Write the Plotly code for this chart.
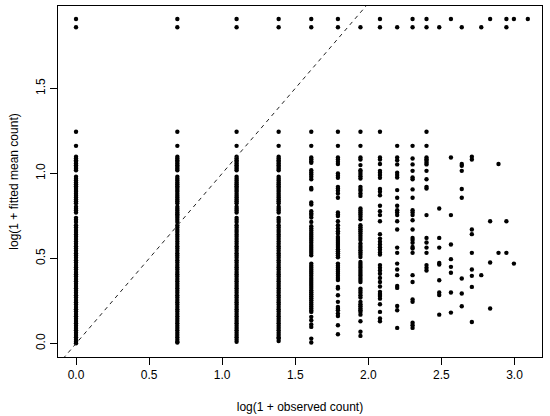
import numpy as np
import plotly.graph_objects as go

# ---------------- data ----------------
# observed counts k; x = log(1 + k)
# y values = log(1 + fitted mean count) for the observations with that count

upper_a = [1.245, 1.162, 1.098, 1.088, 1.078, 1.068, 1.058, 1.048, 1.038, 1.028, 1.019,
           0.980, 0.969, 0.958, 0.947, 0.936, 0.925, 0.914, 0.903, 0.892, 0.880, 0.869,
           0.858, 0.847, 0.836, 0.825, 0.804, 0.793, 0.782, 0.770, 0.739, 0.727, 0.715]
low_a = [0.696, 0.682, 0.668, 0.655, 0.641, 0.628, 0.614, 0.600, 0.586, 0.572, 0.559,
         0.545, 0.531, 0.518, 0.504, 0.490, 0.476, 0.462, 0.449, 0.435, 0.421, 0.408,
         0.394, 0.380, 0.366, 0.352, 0.339, 0.325, 0.311, 0.298, 0.284, 0.270, 0.256,
         0.243, 0.229, 0.215, 0.201, 0.188, 0.174, 0.160, 0.146, 0.133, 0.119, 0.105,
         0.092, 0.078, 0.064, 0.050, 0.037, 0.023, 0.010, 0.002]

y_k0 = upper_a + low_a
y_k1 = upper_a + [0.760, 0.750] + low_a[:-1] + [0.006]
y_k2 = upper_a + low_a[:-2] + [0.010]
y_k3 = upper_a + low_a[:-3] + [0.029, 0.015]
y_k4 = [1.245, 1.162, 1.094, 1.084, 1.072, 1.062, 1.019, 1.006, 0.994, 0.980, 0.966,
        0.915, 0.906, 0.829, 0.817, 0.778, 0.764, 0.755, 0.741, 0.715, 0.690, 0.676,
        0.664, 0.652, 0.640, 0.628, 0.616, 0.604, 0.592, 0.580, 0.568, 0.556, 0.544,
        0.532, 0.519, 0.470, 0.458, 0.446, 0.434, 0.422, 0.410, 0.398, 0.386, 0.374,
        0.362, 0.350, 0.338, 0.326, 0.314, 0.302, 0.290, 0.278, 0.266, 0.254, 0.242,
        0.230, 0.218, 0.206, 0.194, 0.186, 0.157, 0.137, 0.112, 0.098, 0.029, 0.006]
y_k5 = [1.245, 1.162, 1.094, 1.082, 1.068, 1.055, 1.000, 0.986, 0.974, 0.921, 0.911,
        0.898, 0.882, 0.857, 0.770, 0.759, 0.749, 0.719, 0.696, 0.676, 0.660, 0.647,
        0.627, 0.615, 0.603, 0.591, 0.579, 0.567, 0.555, 0.543, 0.531, 0.519, 0.507,
        0.470, 0.458, 0.446, 0.434, 0.422, 0.410, 0.398, 0.386, 0.374, 0.333, 0.323,
        0.284, 0.245, 0.215, 0.205, 0.196, 0.176, 0.162, 0.108, 0.055]
y_k6 = [1.245, 1.162, 1.094, 1.082, 1.049, 1.019, 1.008, 0.996, 0.984, 0.970, 0.921,
        0.909, 0.898, 0.882, 0.868, 0.794, 0.782, 0.770, 0.759, 0.745, 0.731, 0.696,
        0.684, 0.672, 0.660, 0.647, 0.633, 0.621, 0.608, 0.588, 0.574, 0.562, 0.549,
        0.535, 0.523, 0.509, 0.480, 0.468, 0.456, 0.445, 0.433, 0.421, 0.409, 0.398,
        0.386, 0.374, 0.362, 0.323, 0.310, 0.298, 0.284, 0.270, 0.245, 0.231, 0.219,
        0.206, 0.196, 0.186, 0.170, 0.131, 0.069, 0.045]
y_k7 = [1.245, 1.094, 1.082, 1.055, 1.015, 1.004, 0.990, 0.974, 0.908, 0.892, 0.872,
        0.810, 0.778, 0.755, 0.719, 0.643, 0.617, 0.598, 0.582, 0.566, 0.551, 0.535,
        0.523, 0.461, 0.445, 0.429, 0.410, 0.386, 0.362, 0.335, 0.304, 0.292, 0.280,
        0.264, 0.231, 0.186, 0.147, 0.131]
y_k8 = [1.162, 1.094, 1.078, 1.053, 1.004, 0.990, 0.976, 0.902, 0.857, 0.810, 0.784,
        0.770, 0.755, 0.719, 0.670, 0.564, 0.533, 0.470, 0.435, 0.402, 0.339, 0.327,
        0.221, 0.196, 0.092]
y_k9 = [1.162, 1.088, 1.053, 1.015, 0.976, 0.966, 0.906, 0.857, 0.784, 0.770, 0.755,
        0.725, 0.670, 0.621, 0.608, 0.592, 0.568, 0.559, 0.533, 0.402, 0.362, 0.259,
        0.245, 0.123, 0.108, 0.092]
y_k10 = [1.245, 1.162, 1.094, 1.084, 1.074, 1.063, 1.053, 1.015, 0.966, 0.921, 0.911,
         0.755, 0.621, 0.594, 0.564, 0.533, 0.461, 0.445, 0.429]
y_k11 = [0.794, 0.621, 0.564, 0.474, 0.464, 0.372, 0.300, 0.285, 0.170]
y_k12 = [1.094, 0.755, 0.582, 0.496, 0.451, 0.416, 0.300, 0.182]
y_k13 = [1.055, 1.045, 1.015, 0.908, 0.857, 0.382, 0.294, 0.219]
y_k14 = [1.098, 1.082, 0.670, 0.643, 0.533, 0.435, 0.398, 0.333, 0.127]
y_k15 = [0.402]
y_k16 = [0.719, 0.476, 0.206]
y_k17 = [1.055, 0.533]
y_k18 = [0.719, 0.533]
y_k19 = [0.470]
y_k20 = []
y_k21 = []

# the two extreme fitted levels at the top of the chart, and the counts where they occur
top_level_hi = 1.908
top_level_lo = 1.859
top_hi_counts = [0, 1, 2, 3, 4, 5, 7, 9, 10, 12, 16, 18, 19, 21]
top_lo_counts = [0, 1, 2, 3, 4, 5, 6, 7, 8, 9, 10, 11, 13, 15, 18]

columns = [y_k0, y_k1, y_k2, y_k3, y_k4, y_k5, y_k6, y_k7, y_k8, y_k9, y_k10,
           y_k11, y_k12, y_k13, y_k14, y_k15, y_k16, y_k17, y_k18, y_k19, y_k20, y_k21]

x_ticks = [0.0, 0.5, 1.0, 1.5, 2.0, 2.5, 3.0]
y_ticks = [0.0, 0.5, 1.0, 1.5]
x_range = [-0.1233, 3.188]
y_range = [-0.079, 1.984]

# ---------------- build points ----------------
xs, ys = [], []
for k, col in enumerate(columns):
    for v in col:
        xs.append(np.log1p(k))
        ys.append(v)
for k in top_hi_counts:
    xs.append(np.log1p(k)); ys.append(top_level_hi)
for k in top_lo_counts:
    xs.append(np.log1p(k)); ys.append(top_level_lo)

font_family = "Liberation Sans, Arial, sans-serif"

fig = go.Figure()
fig.add_trace(go.Scatter(
    x=xs, y=ys, mode="markers",
    marker=dict(color="black", size=4.4, line=dict(width=0)),
    hoverinfo="x+y", showlegend=False,
))
# identity reference line y = x (abline(0, 1, lty = 2)) spanning the axis range
fig.add_trace(go.Scatter(
    x=[x_range[0] - 1, x_range[1] + 1], y=[x_range[0] - 1, x_range[1] + 1],
    mode="lines", line=dict(color="#222222", width=1, dash="4px,4px"),
    hoverinfo="skip", showlegend=False,
))

axis_common = dict(
    showgrid=False, zeroline=False, showline=True, linecolor="black", linewidth=1,
    mirror=True, ticks="outside", ticklen=7, tickwidth=1, tickcolor="black",
    automargin=False,
    tickfont=dict(family=font_family, size=12, color="black"),
)

fig.update_layout(
    width=550, height=416,
    margin=dict(l=58, r=8, t=6, b=59),
    paper_bgcolor="white", plot_bgcolor="white",
    font=dict(family=font_family, size=12, color="black"),
    xaxis=dict(range=x_range, tickvals=x_ticks, ticktext=[f"{t:.1f}" for t in x_ticks],
               title=dict(text="log(1 + observed count)", standoff=21,
                          font=dict(family=font_family, size=12)),
               **axis_common),
    yaxis=dict(range=y_range, tickvals=y_ticks, ticktext=[f"{t:.1f}" for t in y_ticks],
               tickangle=-90,
               title=dict(text="log(1 + fitted mean count)", standoff=13,
                          font=dict(family=font_family, size=12)),
               **axis_common),
)

fig.write_html(
    "out.html",
    config={"displayModeBar": False},
    post_script="document.body.style.margin='0';document.body.style.overflow='hidden';",
)
